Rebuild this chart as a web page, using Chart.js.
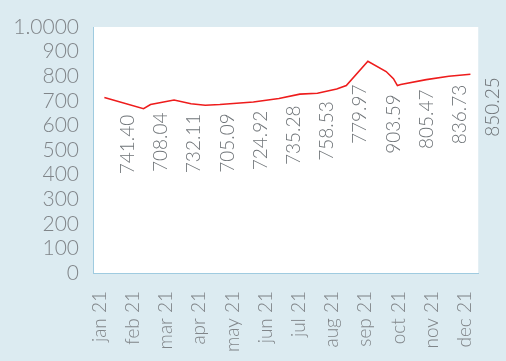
<!DOCTYPE html>
<html>
<head>
<meta charset="utf-8">
<script src="https://cdn.jsdelivr.net/npm/chart.js@4.4.1/dist/chart.umd.min.js"></script>
<style>
    html, body { margin: 0; padding: 0; background: #dcebf1; }
    #wrap { width: 506px; height: 361px; }
</style>
</head>
<body>
<div id="wrap"><canvas id="grafica"></canvas></div>
<script>
// Meses del eje X
const meses = ['jan 21', 'feb 21', 'mar 21', 'apr 21', 'may 21', 'jun 21',
               'jul 21', 'aug 21', 'sep 21', 'oct 21', 'nov 21', 'dec 21'];

// Serie (posición en meses, valor)
const serieX = [0.14, 1.32, 1.53, 2.24, 2.75, 3.18, 3.62, 4.63, 5.40, 6.03, 6.56,
                7.14, 7.43, 8.08, 8.63, 8.85, 8.97, 9.07, 9.84, 10.52, 11.17];
const serieY = [713, 668, 685, 703, 688, 682, 685, 695, 709, 727, 731,
                748, 762, 861, 819, 790, 762, 766, 786, 800, 808];

// Etiquetas de valor mensuales
const etiquetas = ['741.40', '708.04', '732.11', '705.09', '724.92', '735.28',
                   '758.53', '779.97', '903.59', '805.47', '836.73', '850.25'];

// Marcas del eje Y
const ticksY = [0, 100, 200, 300, 400, 500, 600, 700, 800, 900, 1000];
const textosY = ['0', '100', '200', '300', '400', '500', '600', '700', '800', '900', '1.0000'];

const FUENTE = 'Lato, "Open Sans", sans-serif';
const GRIS = '#808589';
const AZUL_EJE = '#9fcbe0';

// Fondo blanco solo en el área del gráfico
const fondoArea = {
    id: 'fondoArea',
    beforeDraw(chart) {
        const { ctx, chartArea: a } = chart;
        ctx.save();
        ctx.fillStyle = '#ffffff';
        ctx.fillRect(a.left, a.top, a.right - a.left, a.bottom - a.top);
        ctx.restore();
    }
};

// Y de la línea en un pixel X dado (interpolando los puntos ya escalados)
function yLineaEn(chart, px) {
    const pts = chart.getDatasetMeta(0).data;
    if (px <= pts[0].x) return pts[0].y;
    for (let i = 1; i < pts.length; i++) {
        if (px <= pts[i].x) {
            const t = (px - pts[i - 1].x) / (pts[i].x - pts[i - 1].x);
            return pts[i - 1].y + t * (pts[i].y - pts[i - 1].y);
        }
    }
    // pasado el último punto: la etiqueta sube al nivel del final de la línea
    return pts[pts.length - 1].y - 6;
}

// Etiquetas verticales debajo de la línea
const etiquetasValor = {
    id: 'etiquetasValor',
    afterDatasetsDraw(chart) {
        const { ctx } = chart;
        const x = chart.scales.x;
        ctx.save();
        ctx.font = '300 19px ' + FUENTE;
        ctx.fillStyle = '#6f7478';
        ctx.textAlign = 'right';
        ctx.textBaseline = 'middle';
        etiquetas.forEach((txt, i) => {
            let px = x.getPixelForValue(i + 0.85);
            px = Math.min(px, chart.width - 9);
            // que no toque la línea en todo el ancho del texto
            const yl = Math.max(yLineaEn(chart, px - 5), yLineaEn(chart, px), yLineaEn(chart, px + 5));
            const py = yl + 9;
            ctx.save();
            ctx.translate(px, py);
            ctx.rotate(-Math.PI / 2);
            ctx.fillText(txt, 0, 0);
            ctx.restore();
        });
        ctx.restore();
    }
};

new Chart(document.getElementById('grafica'), {
    type: 'line',
    data: {
        datasets: [{
            data: serieX.map((v, i) => ({ x: v, y: serieY[i] })),
            borderColor: '#ee1c1c',
            borderWidth: 1.6,
            pointRadius: 0,
            tension: 0,
            fill: false
        }]
    },
    options: {
        responsive: true,
        maintainAspectRatio: false,
        animation: false,
        layout: { padding: { top: 27, right: 12, left: 0, bottom: 0 } },
        plugins: {
            legend: { display: false },
            title: { display: false },
            tooltip: { enabled: false }
        },
        scales: {
            x: {
                type: 'linear',
                min: -0.2026,
                max: 11.405,
                afterBuildTicks: s => { s.ticks = meses.map((_, i) => ({ value: i })); },
                afterFit: s => { s.height = 88; },
                grid: { display: false, drawTicks: false },
                border: { display: true, color: AZUL_EJE, width: 1, dash: [1, 2] },
                ticks: {
                    autoSkip: false,
                    minRotation: 90,
                    maxRotation: 90,
                    padding: 18,
                    color: GRIS,
                    font: { family: FUENTE, size: 19, weight: 300 },
                    callback: v => meses[v]
                }
            },
            y: {
                min: 0,
                max: 1000,
                afterBuildTicks: s => { s.ticks = ticksY.map(v => ({ value: v })); },
                afterFit: s => { s.width = 93; },
                grid: { display: false, drawTicks: false },
                border: { display: true, color: AZUL_EJE, width: 1, dash: [1, 2] },
                ticks: {
                    autoSkip: false,
                    padding: 14,
                    color: GRIS,
                    font: { family: FUENTE, size: 21, weight: 300 },
                    callback: v => textosY[ticksY.indexOf(v)]
                }
            }
        }
    },
    plugins: [fondoArea, etiquetasValor]
});
</script>
</body>
</html>
